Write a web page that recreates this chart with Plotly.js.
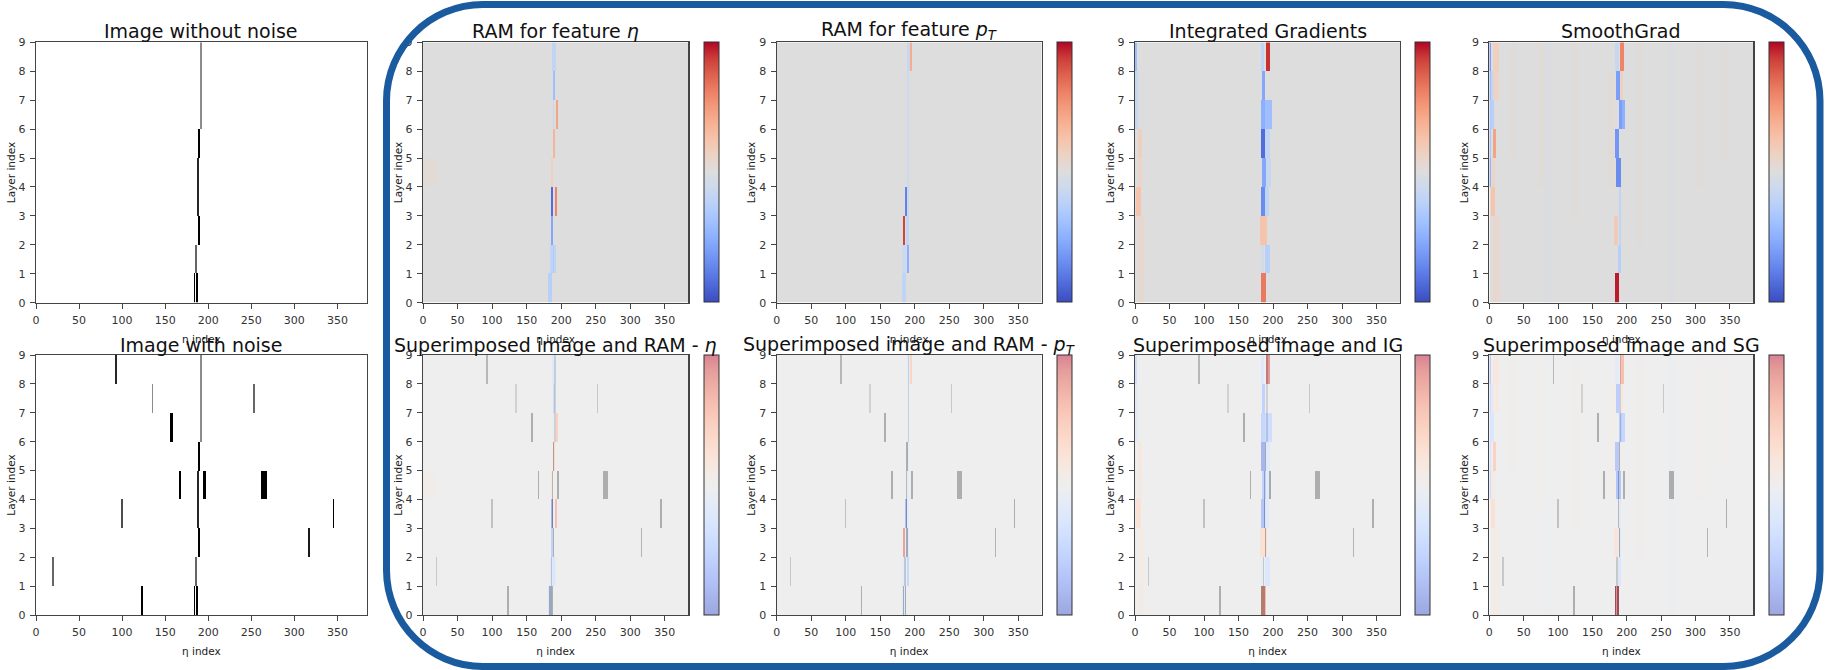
<!DOCTYPE html>
<html>
<head>
<meta charset="utf-8">
<script src="https://cdn.plot.ly/plotly-3.0.1.min.js"></script>
<style>html,body{margin:0;padding:0;background:#fff;}#chart{width:1825px;height:670px;}</style>
</head>
<body>
<div id="chart"></div>
<script>
// ---------------- data ----------------
const etaCount = 384;          // number of eta bins
const layerCount = 9;          // number of layers
const xTickValues = [0, 50, 100, 150, 200, 250, 300, 350];
const yTickValues = [0, 1, 2, 3, 4, 5, 6, 7, 8, 9];

// image hits: [layer, etaStart, etaEnd, intensity]
const signalHits = [
  [0, 183, 184, 1.0], [0, 186, 187, 1.0], [1, 185, 186, 0.6],
  [2, 188, 189, 1.0], [3, 187, 188, 0.85], [4, 187, 188, 0.85],
  [5, 188, 189, 1.0], [6, 190, 191, 0.45], [7, 190, 191, 0.45], [8, 190, 191, 0.45]
];
const noiseHits = [
  [8, 92, 93, 0.85], [7, 134, 135, 0.45], [7, 252, 253, 0.6],
  [6, 156, 158, 1.0], [4, 166, 167, 1.0], [4, 194, 196, 1.0],
  [4, 261, 267, 1.0], [3, 99, 100, 0.7], [3, 344, 345, 1.0],
  [2, 316, 317, 0.9], [1, 19, 20, 0.6], [0, 122, 123, 1.0]
];

// relevance segments: [layer, etaStart, etaEnd, value]  (value in -1..1)
const ramEtaSegments = [
  [8, 187, 191, -0.2], [7, 189, 190, -0.4], [6, 188, 189, -0.15], [6, 192, 194, 0.45],
  [5, 189, 190, 0.35], [4, 0, 20, 0.04], [4, 185, 187, 0.15],
  [3, 186, 188, -0.85], [3, 191, 193, 0.6], [2, 186, 188, -0.55],
  [1, 184, 191, -0.2], [1, 188, 189, -0.3], [0, 181, 186, -0.25]
];
const ramPtSegments = [
  [8, 189, 192, -0.15], [8, 193, 195, 0.4], [7, 189, 191, -0.12], [6, 189, 191, -0.12],
  [5, 189, 191, -0.12], [4, 189, 191, -0.12], [3, 186, 188, -0.75], [3, 189, 190, -0.15],
  [2, 183, 185, 0.85], [2, 187, 190, -0.2], [1, 182, 188, -0.12], [1, 189, 190, -0.5],
  [0, 181, 186, -0.2]
];
const igSegments = [
  [8, 0, 2, -0.4], [7, 0, 4, -0.15], [6, 0, 4, -0.15], [5, 4, 9, 0.15], [4, 4, 9, 0.1],
  [3, 2, 7, 0.25], [2, 5, 12, 0.08], [1, 5, 12, 0.08], [0, 5, 12, 0.06],
  [8, 183, 186, -0.2], [8, 190, 194, 0.9], [7, 184, 188, -0.55],
  [6, 183, 188, -0.5], [6, 189, 197, -0.4], [5, 183, 188, -0.85], [5, 189, 195, -0.2],
  [4, 184, 189, -0.55], [4, 190, 196, -0.15], [3, 183, 188, -0.7], [3, 189, 193, -0.2],
  [2, 181, 190, 0.25], [1, 182, 186, -0.08], [1, 188, 194, -0.25], [0, 183, 189, 0.65]
];
// faint stripes of SmoothGrad: [layerFrom, layerTo, etaStart, etaEnd, value]
const sgStripes = [
  [5, 8, 30, 40, 0.02], [4, 8, 71, 79, 0.03], [0, 8, 81, 91, -0.02], [3, 8, 120, 128, 0.02],
  [4, 7, 173, 180, 0.03], [2, 8, 214, 222, 0.02], [0, 8, 260, 268, -0.02], [4, 8, 300, 310, 0.02], [5, 8, 335, 345, 0.02]
];
const sgSegments = [
  [8, 0, 2, -0.6], [7, 0, 2, -0.4], [6, 0, 2, -0.3], [5, 0, 2, -0.35], [4, 0, 2, -0.45],
  [7, 3, 6, -0.2], [6, 3, 6, -0.25], [8, 6, 13, 0.15], [7, 6, 13, 0.12], [5, 5, 9, 0.45],
  [4, 3, 8, 0.1], [3, 3, 8, 0.25], [2, 6, 14, 0.08], [1, 6, 14, 0.08], [0, 6, 14, 0.08],
  [8, 183, 187, -0.15], [8, 190, 195, 0.6], [7, 185, 189, -0.6], [7, 190, 193, 0.15],
  [6, 188, 196, -0.5], [6, 189, 192, -0.6], [5, 183, 188, -0.65], [4, 185, 190, -0.7],
  [3, 188, 191, -0.2], [2, 181, 186, 0.2], [2, 188, 190, -0.2], [1, 187, 190, -0.25],
  [0, 183, 188, 0.95]
];

const panelTitles = [
  'Image without noise', 'Image with noise',
  'RAM for feature <i>η</i>', 'Superimposed image and RAM - <i>η</i>',
  'RAM for feature <i>p<sub>T</sub></i>', 'Superimposed image and RAM - <i>p<sub>T</sub></i>',
  'Integrated Gradients', 'Superimposed image and IG',
  'SmoothGrad', 'Superimposed image and SG'
];
const xAxisTitle = 'η index';
const yAxisTitle = 'Layer index';

// coolwarm colormap stops
const cwPos = [0, 0.0625, 0.125, 0.1875, 0.25, 0.3125, 0.375, 0.4375, 0.5, 0.5625, 0.625, 0.6875, 0.75, 0.8125, 0.875, 0.9375, 1];
const cwRGB = [
  [59,76,192],[77,104,215],[98,130,234],[119,154,247],[141,176,254],[163,194,255],[184,208,249],[204,217,238],
  [221,221,221],[236,211,197],[245,196,172],[247,177,147],[244,154,123],[236,127,99],[222,96,77],[203,62,56],[180,4,38]
];

// ---------------- helpers ----------------
function grid(fill) {
  const z = [];
  for (let l = 0; l < layerCount; l++) z.push(new Array(etaCount).fill(fill));
  return z;
}
function paint(z, segs) {
  segs.forEach(s => { for (let i = s[1]; i <= s[2]; i++) z[s[0]][i] = s[3]; });
  return z;
}
function stripes(z, st) {
  st.forEach(s => { for (let l = s[0]; l <= s[1]; l++) for (let i = s[2]; i <= s[3]; i++) z[l][i] = s[4]; });
  return z;
}
const imageClean = paint(grid(0), signalHits);
const imageNoisy = paint(paint(grid(0), signalHits), noiseHits);
const zRamEta = paint(grid(0), ramEtaSegments);
const zRamPt = paint(grid(0), ramPtSegments);
const zIG = paint(grid(0), igSegments);
const zSG = paint(stripes(grid(0), sgStripes), sgSegments);

const coolwarm = cwPos.map((p, i) => [p, 'rgb(' + cwRGB[i].join(',') + ')']);
const coolwarmFaded = cwPos.map((p, i) => [p, 'rgba(' + cwRGB[i].join(',') + ',0.5)']);
const grayR = [[0, '#ffffff'], [1, '#000000']];

// ---------------- layout geometry (pixels) ----------------
const W = 1825, H = 670;
const colX = [[36, 366.7], [423, 688.3], [776.7, 1041.7], [1135, 1400], [1489.3, 1753.3]];
const cbX = [null, 704, 1057, 1415, 1768.5];
const rowY = [[42.3, 302.7], [355, 615]];

const data = [];
const layout = {
  width: W, height: H,
  margin: {l: 0, r: 0, t: 0, b: 0},
  paper_bgcolor: '#ffffff', plot_bgcolor: '#ffffff',
  font: {family: 'DejaVu Sans, sans-serif', color: '#222'},
  showlegend: false,
  annotations: [], shapes: []
};

const ramMaps = [null, zRamEta, zRamPt, zIG, zSG];
let k = 0;
for (let c = 0; c < 5; c++) {
  for (let r = 0; r < 2; r++) {
    k++;
    const xa = 'x' + (k === 1 ? '' : k), ya = 'y' + (k === 1 ? '' : k);
    const xName = 'xaxis' + (k === 1 ? '' : k), yName = 'yaxis' + (k === 1 ? '' : k);
    const x0 = colX[c][0] / W, x1 = colX[c][1] / W;
    const y0 = 1 - rowY[r][1] / H, y1 = 1 - rowY[r][0] / H;
    layout[xName] = {
      domain: [x0, x1], anchor: ya, range: [0, etaCount], tickvals: xTickValues,
      showline: true, mirror: true, linecolor: '#444', linewidth: 1.2,
      ticks: 'outside', ticklen: 5, tickwidth: 1, tickcolor: '#444', ticklabelstandoff: 2,
      tickfont: {family: 'DejaVu Sans', size: 11, color: '#333'}, showgrid: false, zeroline: false,
      title: {text: xAxisTitle, font: {family: 'DejaVu Sans', size: 10.5, color: '#222'}, standoff: 9}
    };
    layout[yName] = {
      domain: [y0, y1], anchor: xa, range: [0, layerCount], tickvals: yTickValues,
      showline: true, mirror: true, linecolor: '#444', linewidth: 1.2,
      ticks: 'outside', ticklen: 5, tickwidth: 1, tickcolor: '#444', ticklabelstandoff: 2,
      tickfont: {family: 'DejaVu Sans', size: 11, color: '#333'}, showgrid: false, zeroline: false,
      title: {text: yAxisTitle, font: {family: 'DejaVu Sans', size: 10.5, color: '#222'}, standoff: 1}
    };
    const base = {type: 'heatmap', x0: 0.5, dx: 1, y0: 0.5, dy: 1, xaxis: xa, yaxis: ya, hoverinfo: 'skip'};
    const cb = c > 0 ? {
      x: cbX[c] / W, xanchor: 'left', xpad: 0, ypad: 0,
      y: (y0 + y1) / 2, yanchor: 'middle', len: rowY[r][1] - rowY[r][0], lenmode: 'pixels',
      thickness: 14.5, thicknessmode: 'pixels', showticklabels: false, ticks: '',
      outlinewidth: 1, outlinecolor: '#333'
    } : null;
    if (c === 0) {
      data.push(Object.assign({}, base, {z: r === 0 ? imageClean : imageNoisy, colorscale: grayR, zmin: 0, zmax: 1, showscale: false}));
    } else if (r === 0) {
      data.push(Object.assign({}, base, {z: ramMaps[c], colorscale: coolwarm, zmin: -1, zmax: 1, showscale: true, colorbar: cb}));
    } else {
      data.push(Object.assign({}, base, {z: imageNoisy, colorscale: grayR, zmin: 0, zmax: 1, showscale: false, opacity: 0.5}));
      data.push(Object.assign({}, base, {z: ramMaps[c], colorscale: coolwarmFaded, zmin: -1, zmax: 1, showscale: true, colorbar: cb}));
    }
    layout.annotations.push({
      text: panelTitles[k - 1], xref: 'paper', yref: 'paper',
      x: (x0 + x1) / 2, xanchor: 'center',
      y: 1 - (r === 0 ? 30.5 : 345) / H, yanchor: 'middle',
      showarrow: false, font: {size: 19, color: '#111'}
    });
  }
}

// rounded frame around the attribution panels
(function () {
  const L = 386.5, R = 1820, T = 4.5, B = 666.5, rad = 96.5, kk = 0.5523 * rad;
  const px = v => (v / W).toFixed(5), py = v => (1 - v / H).toFixed(5);
  const p = [
    'M', px(L + rad), py(T), 'L', px(R - rad), py(T),
    'C', px(R - rad + kk), py(T), px(R), py(T + rad - kk), px(R), py(T + rad),
    'L', px(R), py(B - rad),
    'C', px(R), py(B - rad + kk), px(R - rad + kk), py(B), px(R - rad), py(B),
    'L', px(L + rad), py(B),
    'C', px(L + rad - kk), py(B), px(L), py(B - rad + kk), px(L), py(B - rad),
    'L', px(L), py(T + rad),
    'C', px(L), py(T + rad - kk), px(L + rad - kk), py(T), px(L + rad), py(T), 'Z'
  ];
  let s = '', i = 0;
  while (i < p.length) {
    const cmd = p[i++];
    if (cmd === 'Z') { s += 'Z'; break; }
    const n = cmd === 'C' ? 3 : 1;
    const pts = [];
    for (let j = 0; j < n; j++) { pts.push(p[i] + ',' + p[i + 1]); i += 2; }
    s += cmd + pts.join(' ');
  }
  layout.shapes.push({type: 'path', xref: 'paper', yref: 'paper', path: s, line: {color: '#1a5a9e', width: 7}, fillcolor: 'rgba(0,0,0,0)', layer: 'above'});
})();

Plotly.newPlot('chart', data, layout, {staticPlot: true, displayModeBar: false});
</script>
</body>
</html>
